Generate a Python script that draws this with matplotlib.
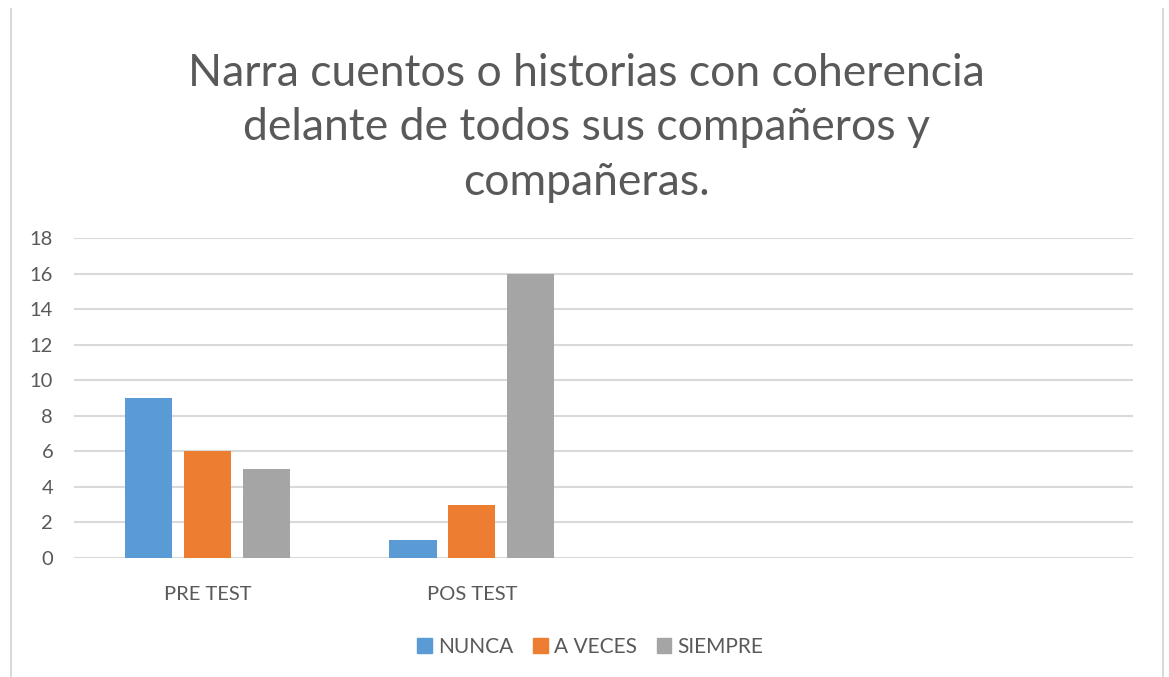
import numpy as np
import matplotlib.pyplot as plt
from matplotlib.patches import Patch

categories = ['PRE TEST', 'POS TEST', '', '']
series_names = ['NUNCA', 'A VECES', 'SIEMPRE']
nunca = [9, 1, 0, 0]
a_veces = [6, 3, 0, 0]
siempre = [5, 16, 0, 0]
colors = ['#5B9BD5', '#ED7D31', '#A5A5A5']
title = 'Narra cuentos o historias con coherencia\ndelante de todos sus compañeros y\ncompañeras.'

plt.rcParams['font.family'] = ['Lato', 'DejaVu Sans']
text_color = '#595959'

fig = plt.figure(figsize=(11.69, 6.77), dpi=100)
ax = fig.add_axes([74 / 1169, 1 - 558 / 677, (1133 - 74) / 1169, (558 - 238) / 677])

x = np.arange(len(categories))
width = 0.178
offset = 0.223
for i, vals in enumerate([nunca, a_veces, siempre]):
    ax.bar(x + (i - 1) * offset, vals, width, color=colors[i], zorder=3)

ax.set_xlim(-0.505, len(categories) - 0.5)
ax.set_ylim(0, 18)
ax.set_yticks(range(0, 19, 2))
ax.set_xticks(x)
ax.set_xticklabels(categories)
ax.tick_params(axis='both', length=0, labelsize=14.5, colors=text_color)
ax.tick_params(axis='x', pad=20)
ax.tick_params(axis='y', pad=15)
ax.yaxis.grid(True, color='#D9D9D9', linewidth=1.5, zorder=0)
for s in ax.spines.values():
    s.set_visible(False)

fig.text(0.502, 1 - 128 / 677, title, ha='center', va='center', fontsize=32,
         color=text_color, linespacing=1.4)

handles = [Patch(color=c) for c in colors]
fig.legend(handles, series_names, loc='center', bbox_to_anchor=(0.505, 1 - 647 / 677),
           ncol=3, frameon=False, fontsize=15, labelcolor=text_color,
           handlelength=0.7, handleheight=0.7, handletextpad=0.3, columnspacing=0.95)

# chart border (only side lines visible)
fig.add_artist(plt.Line2D([11 / 1169, 11 / 1169], [0, 1 - 9 / 677], color='#D9D9D9', linewidth=1.5))
fig.add_artist(plt.Line2D([1163 / 1169, 1163 / 1169], [0, 1 - 9 / 677], color='#D9D9D9', linewidth=1.5))

fig.savefig('out.png', dpi=100)
